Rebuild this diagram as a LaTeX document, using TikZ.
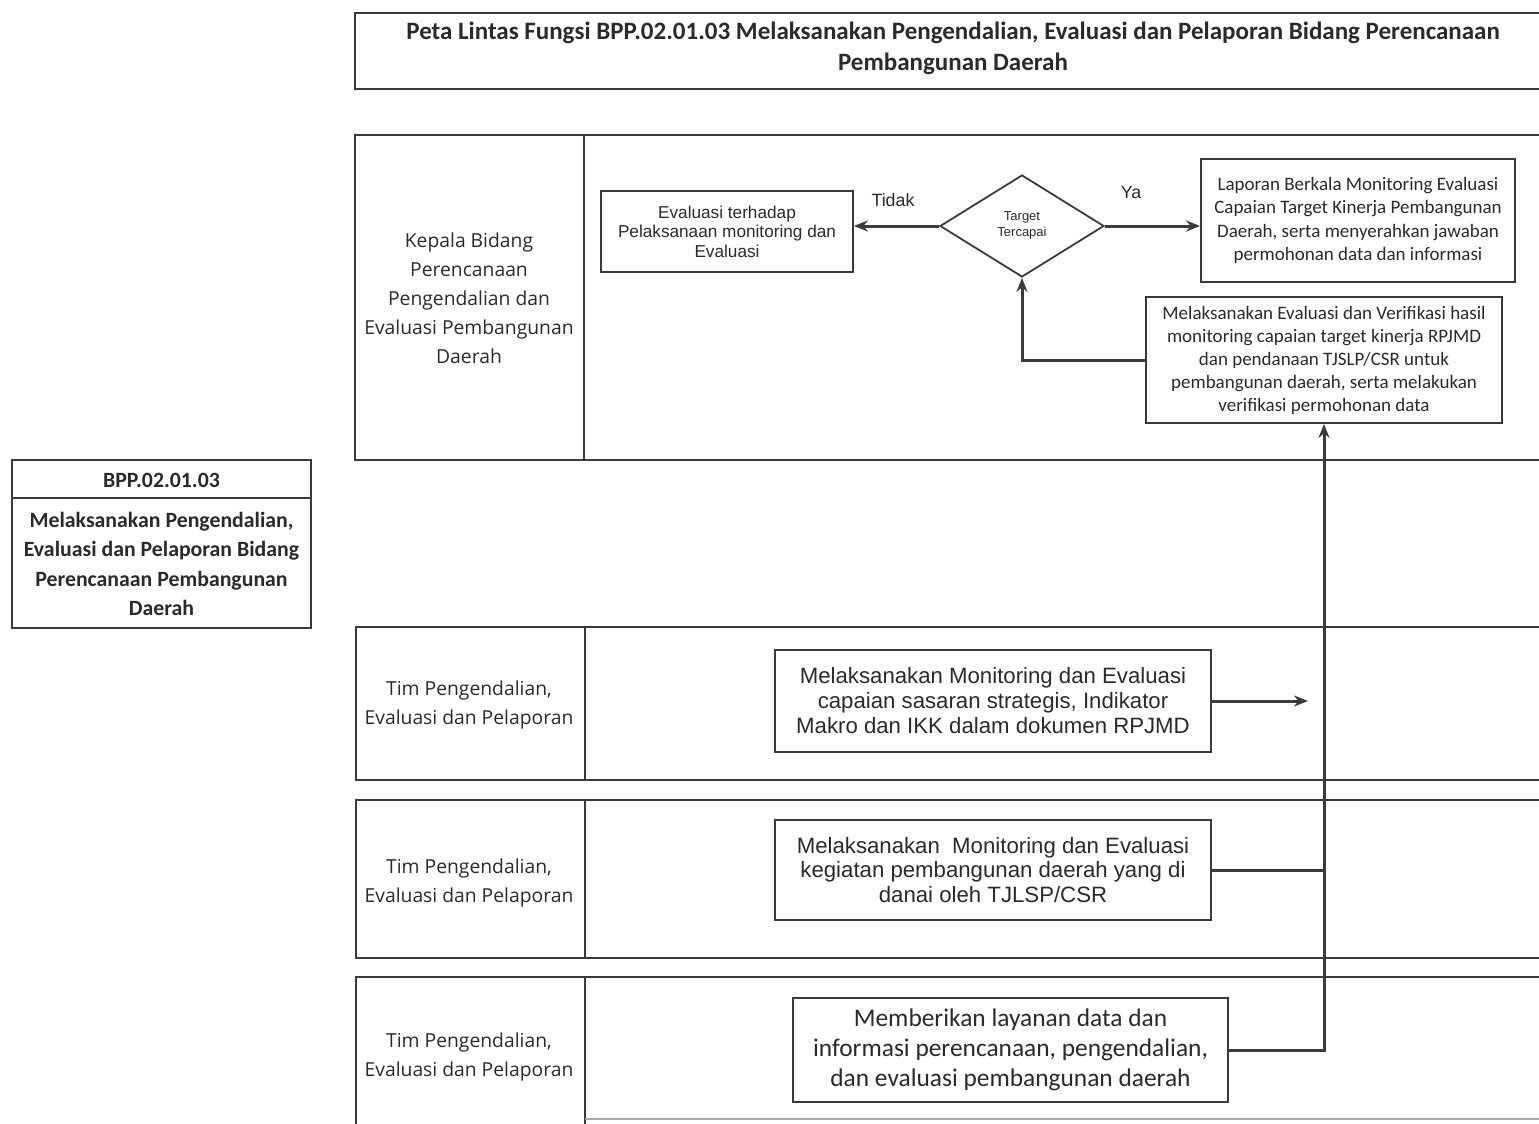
\documentclass[tikz,border=0pt]{standalone}
\usepackage{fontspec}
\setmainfont{Carlito}
\newfontfamily\arialf{Liberation Sans}
\newfontfamily\opensf{Open Sans}
\usetikzlibrary{shapes.geometric,arrows.meta}
\definecolor{ink}{HTML}{2A2A2A}
\definecolor{lin}{HTML}{3A3A3A}
\begin{document}
\begin{tikzpicture}[x=1pt,y=-1pt,
  lane/.style={draw=lin, line width=1.7pt},
  box/.style={draw=lin, line width=1.8pt, align=center, inner sep=0pt, text=ink},
  lbl/.style={align=center, inner sep=0pt, text=ink},
  arr/.style={draw=lin, line width=3pt, -{Stealth[length=14pt,width=11pt]}},
  conn/.style={draw=lin, line width=3pt},
  lanefont/.style={font=\opensf\fontsize{19.3}{29}\selectfont}
]
\path[use as bounding box, fill=white] (0,0) rectangle (1539,1124);
\clip (0,0) rectangle (1539,1124);

% title box
\draw[lane] (355,13) rectangle (1560,89);
\node[lbl, font=\bfseries\fontsize{25}{31}\selectfont] (title) at (953,48.5)
  {Peta Lintas Fungsi BPP.02.01.03 Melaksanakan Pengendalian, Evaluasi dan Pelaporan Bidang Perencanaan\\Pembangunan Daerah};

% lanes
\draw[lane] (355,135) rectangle (1560,460);
\draw[lane] (584,135) -- (584,460);
\draw[lane] (356,627) rectangle (1560,780);
\draw[lane] (585,627) -- (585,780);
\draw[lane] (356,800) rectangle (1560,958);
\draw[lane] (585,800) -- (585,958);
\draw[lane] (1560,977) -- (356,977) -- (356,1130);
\draw[lane] (585,977) -- (585,1130);
\draw[lane, draw=lin!45] (585,1119) -- (1560,1119);

% lane labels
\node[lbl, lanefont] (k1) at (469,298.5)
  {Kepala Bidang\\Perencanaan\\Pengendalian dan\\Evaluasi Pembangunan\\Daerah};
\node[lbl, lanefont] (t2) at (469,704.5) {Tim Pengendalian,\\Evaluasi dan Pelaporan};
\node[lbl, lanefont] (t3) at (469,882.5) {Tim Pengendalian,\\Evaluasi dan Pelaporan};
\node[lbl, lanefont] (t4) at (469,1056.5) {Tim Pengendalian,\\Evaluasi dan Pelaporan};

% BPP box
\draw[lane] (12,460) rectangle (311,628);
\draw[lane] (12,498) -- (311,498);
\node[lbl, font=\bfseries\fontsize{21.8}{29.5}\selectfont] (bpph) at (161.5,480) {BPP.02.01.03};
\node[lbl, font=\bfseries\fontsize{21.8}{29.5}\selectfont] (bppt) at (161.5,564)
  {Melaksanakan Pengendalian,\\Evaluasi dan Pelaporan Bidang\\Perencanaan Pembangunan\\Daerah};

% lane 1 nodes
\node[box, minimum width=252pt, minimum height=81pt, font=\arialf\fontsize{17.2}{19.5}\selectfont] (ev) at (727,231.5)
  {Evaluasi terhadap\\Pelaksanaan monitoring dan\\Evaluasi};
\node[box, diamond, minimum width=164pt, minimum height=102pt] (dec) at (1022,226) {};
\node[lbl, font=\arialf\fontsize{13}{16}\selectfont] (dect) at (1022,225) {Target\\Tercapai};
\node[box, minimum width=314pt, minimum height=123pt, font=\fontsize{19}{23.3}\selectfont] (lap) at (1358,220.5)
  {Laporan Berkala Monitoring Evaluasi\\Capaian Target Kinerja Pembangunan\\Daerah, serta menyerahkan jawaban\\permohonan data dan informasi};
\node[box, minimum width=356pt, minimum height=126pt, font=\fontsize{19}{23}\selectfont] (mev) at (1324,360)
  {Melaksanakan Evaluasi dan Verifikasi hasil\\monitoring capaian target kinerja RPJMD\\dan pendanaan TJSLP/CSR untuk\\pembangunan daerah, serta melakukan\\verifikasi permohonan data};
\node[lbl, font=\arialf\fontsize{17.8}{20}\selectfont] (tidak) at (893,200) {Tidak};
\node[lbl, font=\arialf\fontsize{17.8}{20}\selectfont] (ya) at (1131,192) {Ya};

% lower lanes nodes
\node[box, minimum width=436pt, minimum height=102pt, font=\arialf\fontsize{22.2}{25}\selectfont] (m1) at (993,701)
  {Melaksanakan Monitoring dan Evaluasi\\capaian sasaran strategis, Indikator\\Makro dan IKK dalam dokumen RPJMD};
\node[box, minimum width=436pt, minimum height=100pt, font=\arialf\fontsize{22.2}{24.5}\selectfont] (m2) at (993,870)
  {Melaksanakan\ \ Monitoring dan Evaluasi\\kegiatan pembangunan daerah yang di\\danai oleh TJLSP/CSR};
\node[box, minimum width=435pt, minimum height=104pt, font=\fontsize{25.4}{30}\selectfont] (mb) at (1010.5,1050)
  {Memberikan layanan data dan\\informasi perencanaan, pengendalian,\\dan evaluasi pembangunan daerah};

\coordinate (fr) at (1308,701);

% connectors
\draw[arr] (dec.west) -- (dec.west -| ev.east);
\draw[arr] (dec.east) -- (dec.east -| lap.west);
\draw[arr] (mev.west) -| (dec.south);
\draw[arr] (mb.east) -| (mev.south);
\draw[conn] (m2.east) -- (m2.east -| mev.south);
\draw[arr] (m1.east) -- (fr);
\end{tikzpicture}
\end{document}
